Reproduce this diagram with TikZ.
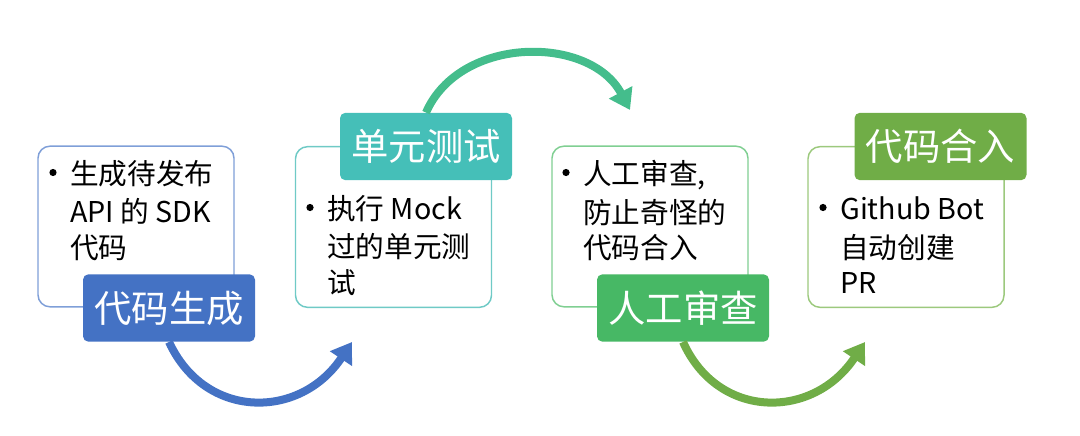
\documentclass[tikz,border=0pt]{standalone}
\usepackage{fontspec}
\setmainfont{Noto Sans CJK SC}
\usetikzlibrary{arrows.meta}
\definecolor{cblue}{HTML}{4472C4}
\definecolor{cblueL}{HTML}{7F9FD8}
\definecolor{cteal}{HTML}{45BFB8}
\definecolor{ctealL}{HTML}{6FCAC6}
\definecolor{cgreen}{HTML}{47B865}
\definecolor{cgreenL}{HTML}{80CF92}
\definecolor{colive}{HTML}{70AD47}
\definecolor{coliveL}{HTML}{9CC97D}
\definecolor{cmint}{HTML}{44BD8C}
\tikzset{
  outlinebox/.style={draw=#1, line width=1.1pt, rounded corners=9pt, fill=white,
    minimum width=147pt, minimum height=120.5pt, inner sep=0pt},
  labelbox/.style={fill=#1, rounded corners=4pt, text=white,
    minimum width=129pt, minimum height=50.5pt, inner sep=0pt,
    font=\fontsize{28pt}{34pt}\selectfont},
  bodyline/.style={anchor=base west, inner sep=0pt, font=\fontsize{21.5pt}{27pt}\selectfont},
  bulletdot/.style={circle, fill=black, inner sep=0pt, minimum size=5.4pt},
  flowarrow/.style={draw=#1, line width=6pt, -{Triangle[width=19pt,length=15pt]}},
}
\begin{document}
\begin{tikzpicture}[x=0.75pt,y=-0.75pt]
\useasboundingbox (0,0) rectangle (1080,435);
% outline boxes
\node[outlinebox=cblueL] (B1) at (136,226.5) {};
\node[outlinebox=ctealL] (B2) at (393.5,227) {};
\node[outlinebox=cgreenL] (B3) at (650,226.5) {};
\node[outlinebox=coliveL] (B4) at (906,227) {};
% label boxes
\node[labelbox=cblue] (L1) at (169,308) {代码生成};
\node[labelbox=cteal] (L2) at (426,146.5) {单元测试};
\node[labelbox=cgreen] (L3) at (683,308) {人工审查};
\node[labelbox=colive] (L4) at (940.5,146.5) {代码合入};
% box 1 text
\node[bulletdot] (d1) at (53,172.5) {};
\node[bodyline] (t11) at (70,184) {生成待发布};
\node[bodyline] (t12) at (70,222) {API 的 SDK};
\node[bodyline] (t13) at (70,258) {代码};
% box 2 text
\node[bulletdot] (d2) at (310,207.5) {};
\node[bodyline] (t21) at (327,219) {执行 Mock};
\node[bodyline] (t22) at (327,257) {过的单元测};
\node[bodyline] (t23) at (327,293) {试};
% box 3 text
\node[bulletdot] (d3) at (566,172.5) {};
\node[bodyline] (t31) at (583,184) {人工审查,};
\node[bodyline] (t32) at (583,223) {防止奇怪的};
\node[bodyline] (t33) at (583,258) {代码合入};
% box 4 text
\node[bulletdot] (d4) at (823,207.5) {};
\node[bodyline] (t41) at (840,219) {Github Bot};
\node[bodyline] (t42) at (840,258) {自动创建};
\node[bodyline] (t43) at (840,293) {PR};
% arrows
\coordinate (e1) at (352,342);
\coordinate (e2) at (630,110);
\coordinate (e3) at (865,342);
\draw[flowarrow=cblue] (L1.south) .. controls (205,420) and (300,420) .. (e1);
\draw[flowarrow=cmint] (L2.north) .. controls (460,35) and (590,35) .. (e2);
\draw[flowarrow=colive] (L3.south) .. controls (718,420) and (813,420) .. (e3);
\end{tikzpicture}
\end{document}
